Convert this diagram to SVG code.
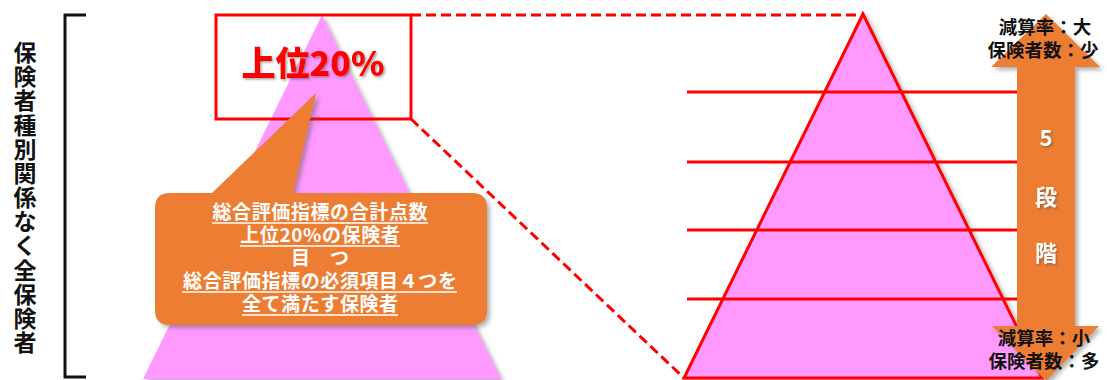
<svg xmlns="http://www.w3.org/2000/svg" width="1107" height="380" viewBox="0 0 1107 380">
<defs>
<filter id="sh" x="-10%" y="-10%" width="130%" height="130%">
<feDropShadow dx="3" dy="3" stdDeviation="2" flood-color="#555" flood-opacity="0.45"/>
</filter>
<filter id="tsh" x="-10%" y="-20%" width="130%" height="150%">
<feDropShadow dx="1.5" dy="1.5" stdDeviation="1" flood-color="#444" flood-opacity="0.5"/>
</filter>
</defs>
<style>
.jp{font-family:"Noto Sans CJK JP","Noto Sans CJK SC",sans-serif;font-weight:bold}
.pink{fill:#FF99FF}
.org{fill:#ED7D31}
.red{stroke:#FF0000;stroke-width:3;fill:none}
.dash{stroke:#FF0000;stroke-width:3;fill:none;stroke-dasharray:10 5}
.wt{fill:#FFFFFF;font-size:19px;letter-spacing:0.6px;text-anchor:middle}
.ul{stroke:#FFFFFF;stroke-width:1.5}
.bk{fill:#111;font-size:18.5px;text-anchor:middle}
.st{fill:#FFFFFF;font-size:22px;text-anchor:middle}
.lv{fill:#111;font-size:23px;text-anchor:middle}
</style>
<rect width="1107" height="380" fill="#FFFFFF"/>

<g id="left-label">
<text class="jp lv" x="25" y="61">保</text>
<text class="jp lv" x="25" y="85.2">険</text>
<text class="jp lv" x="25" y="109.3">者</text>
<text class="jp lv" x="25" y="133.5">種</text>
<text class="jp lv" x="25" y="157.7">別</text>
<text class="jp lv" x="25" y="181.8">関</text>
<text class="jp lv" x="25" y="206">係</text>
<text class="jp lv" x="25" y="230.2">な</text>
<text class="jp lv" x="25" y="254.3">く</text>
<text class="jp lv" x="25" y="278.5">全</text>
<text class="jp lv" x="25" y="302.7">保</text>
<text class="jp lv" x="25" y="326.8">険</text>
<text class="jp lv" x="25" y="351">者</text>
</g>

<g id="bracket">
<path d="M86,15 H65 V377 H86" fill="none" stroke="#111" stroke-width="3"/>
</g>

<g id="left-pyramid">
<polygon class="pink" points="322,15 143,379 501,379" filter="url(#sh)"/>
</g>

<g id="top20-box">
<rect x="216" y="15" width="195" height="104" class="red"/>
<text x="313" y="76" class="jp" font-size="34" fill="#FF0000" text-anchor="middle" filter="url(#tsh)" style="font-weight:900">上位20%</text>
</g>

<g id="callout">
<path class="org" filter="url(#sh)" d="M170,193 H212 L316,93 L293,193 H472 Q487,193 487,208 V310 Q487,325 472,325 H170 Q155,325 155,310 V208 Q155,193 170,193 Z"/>
<text class="jp wt" x="320.3" y="219">総合評価指標の合計点数</text>
<text class="jp wt" x="320.3" y="242">上位20%の保険者</text>
<text class="jp wt" x="320.3" y="265">目　つ</text>
<text class="jp wt" x="320.3" y="288">総合評価指標の必須項目４つを</text>
<text class="jp wt" x="320.3" y="311">全て満たす保険者</text>
<line class="ul" x1="212" y1="223" x2="428" y2="223"/>
<line class="ul" x1="240" y1="246" x2="400" y2="246"/>
<line class="ul" x1="182" y1="292" x2="457" y2="292"/>
<line class="ul" x1="242" y1="315" x2="398" y2="315"/>
</g>

<g id="connectors">
<line class="dash" x1="411" y1="15" x2="863" y2="15"/>
<line class="dash" x1="411" y1="119" x2="684" y2="378"/>
</g>

<g id="right-pyramid">
<polygon class="pink" points="863,14 684,378 1042,378" stroke="#FF0000" stroke-width="3" filter="url(#sh)"/>
<line class="red" x1="687" y1="92" x2="1020" y2="92"/>
<line class="red" x1="687" y1="162" x2="1020" y2="162"/>
<line class="red" x1="687" y1="230" x2="1020" y2="230"/>
<line class="red" x1="687" y1="299" x2="1020" y2="299"/>
</g>

<g id="scale-arrow">
<polygon class="org" filter="url(#sh)" points="1046,14 1100,67 1075,67 1075,326 1099,326 1046,381 992,326 1017,326 1017,67 991,67"/>
<text class="jp st" x="1046" y="146" filter="url(#tsh)">5</text>
<text class="jp st" x="1046" y="205" filter="url(#tsh)">段</text>
<text class="jp st" x="1046" y="261" filter="url(#tsh)">階</text>
<text class="jp bk" x="1045" y="34">減算率：大</text>
<text class="jp bk" x="1043" y="57">保険者数：少</text>
<text class="jp bk" x="1044" y="345">減算率：小</text>
<text class="jp bk" x="1044" y="368">保険者数：多</text>
</g>
</svg>
